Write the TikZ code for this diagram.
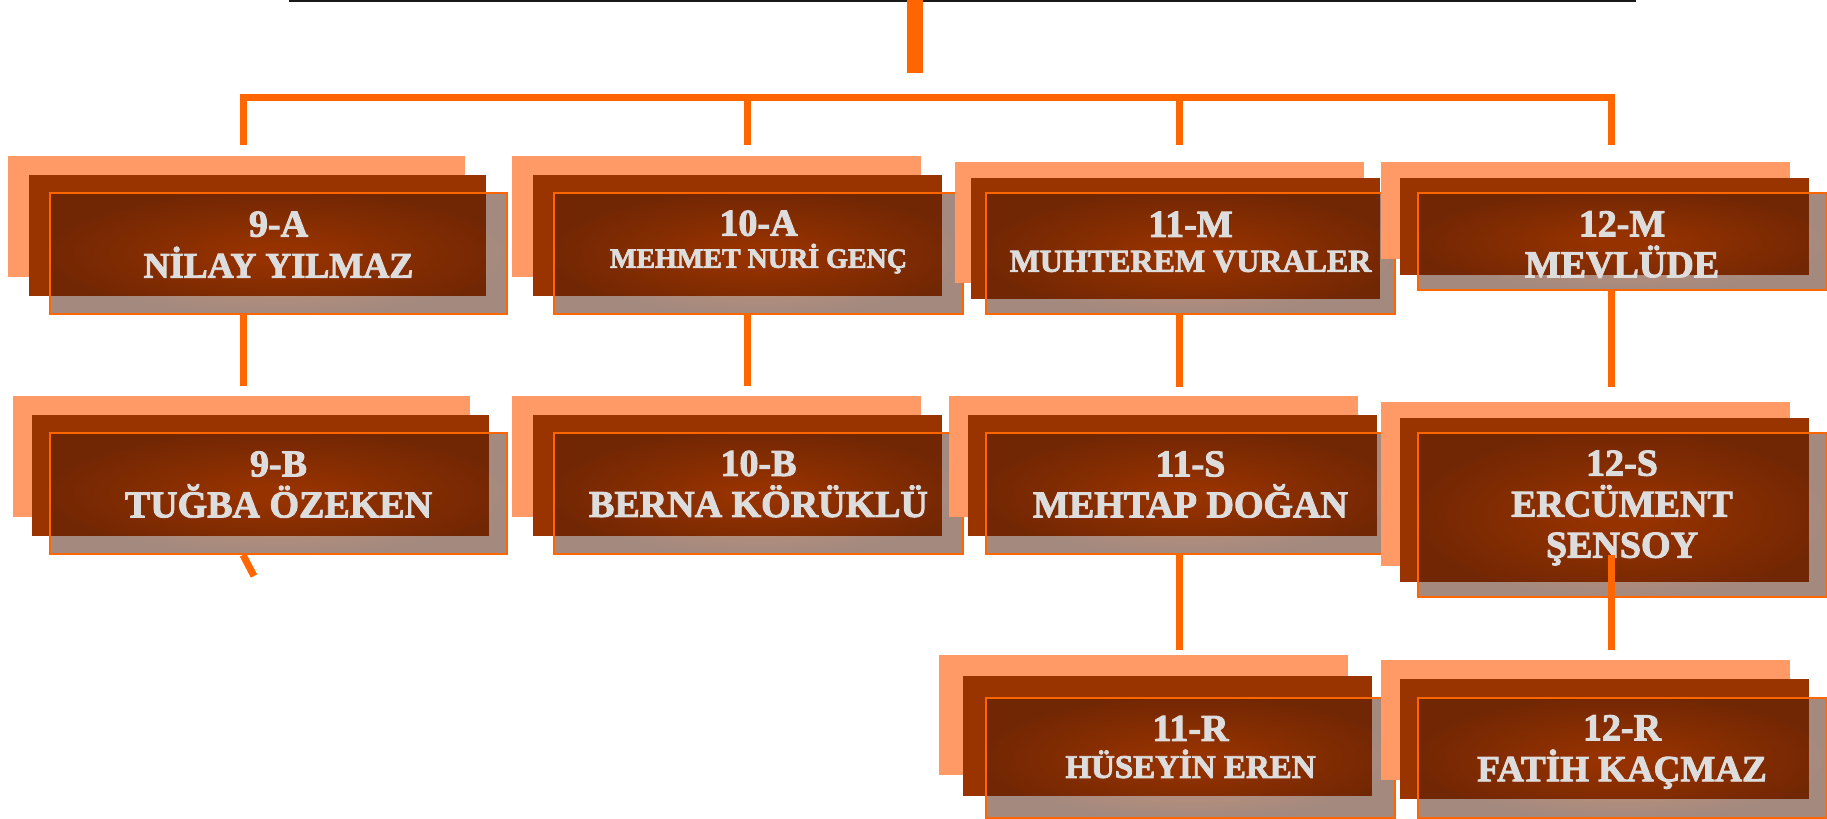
\documentclass[tikz,border=0pt]{standalone}
\usepackage{fontspec}
\setmainfont{Liberation Serif}[BoldFeatures={FakeBold=2.5}]
\usetikzlibrary{shadows}

\definecolor{salmon}{HTML}{FF9966}
\definecolor{brick}{HTML}{993300}
\definecolor{wire}{HTML}{FF6600}
\definecolor{shadelo}{RGB}{78,28,8}
\definecolor{shadehi}{RGB}{146,50,0}
\definecolor{labelgray}{HTML}{DDDDDD}
\pgfdeclareradialshading{glow}{\pgfpoint{0bp}{0bp}}{color(0bp)=(shadehi);
    color(4bp)=(shadehi); color(26bp)=(shadelo); color(50bp)=(shadelo)}

\begin{document}
\begin{tikzpicture}[x=0.5pt, y=-0.5pt,
    klass/.style={draw=wire, line width=1pt, inner sep=0pt,
                  minimum width=204.5pt, minimum height=60.5pt,
                  shade, shading=glow, fill opacity=0.52},
    stack/.style n args={4}{general shadow={fill=salmon, fill opacity=1,
                  shadow xshift=#3, shadow yshift=#4},
                  general shadow={fill=brick, fill opacity=1,
                  shadow xshift=#1, shadow yshift=#2}},
    tag/.style={inner sep=0pt, align=center, text=labelgray,
                font=\bfseries\fontsize{19pt}{20.5pt}\selectfont},
    link/.style={draw=wire, line width=3.5pt}]
    \useasboundingbox (0,0) rectangle (1827,819);
    \draw[line width=1.2pt, black!90] (289,1) -- (1636,1);

    \node[klass, minimum width=228.5pt, stack={-10.5pt}{9pt}{-21pt}{18.5pt}] (c9a) at (278.5,253.5) {};
    \node[klass, stack={-10.5pt}{9pt}{-21pt}{18.5pt}] (c10a) at (758.5,253.5) {};
    \node[klass, stack={-7.5pt}{7.5pt}{-15.5pt}{15.5pt}] (c11m) at (1190.5,253.5) {};
    \node[klass, minimum height=48.5pt, stack={-9pt}{7.5pt}{-18.5pt}{15.5pt}] (c12m) at (1622,241.5) {};
    \node[klass, minimum width=228.5pt, stack={-9pt}{9pt}{-18.5pt}{18.5pt}] (c9b) at (278.5,493.5) {};
    \node[klass, stack={-10.5pt}{9pt}{-21pt}{18.5pt}] (c10b) at (758.5,493.5) {};
    \node[klass, stack={-9pt}{9pt}{-18.5pt}{18.5pt}] (c11s) at (1190.5,493.5) {};
    \node[klass, minimum height=82pt, stack={-9pt}{7.5pt}{-18.5pt}{15.5pt}] (c12s) at (1622,515) {};
    \node[klass, minimum height=60pt, stack={-11.5pt}{11pt}{-23.5pt}{21.5pt}] (c11r) at (1190.5,758) {};
    \node[klass, minimum height=60pt, stack={-9pt}{9.5pt}{-18.5pt}{19pt}] (c12r) at (1622,758) {};

    \node[tag] (t9a) at (278.5,244.5) {9-A\\{\fontsize{18pt}{20pt}\selectfont NİLAY YILMAZ}};
    \node[tag] (t10a) at (758.5,242) {10-A\\[-4.5pt]{\fontsize{14pt}{16pt}\selectfont MEHMET NURİ GENÇ}};
    \node[tag] (t11m) at (1190.5,242) {11-M\\[-3pt]{\fontsize{16pt}{18pt}\selectfont MUHTEREM VURALER}};
    \node[tag] (t12m) at (1622,244.5) {12-M\\MEVLÜDE};
    \node[tag] (t9b) at (278.5,484.5) {9-B\\TUĞBA ÖZEKEN};
    \node[tag] (t10b) at (758.5,484) {10-B\\BERNA KÖRÜKLÜ};
    \node[tag] (t11s) at (1190.5,484.5) {11-S\\MEHTAP DOĞAN};
    \node[tag] (t12s) at (1622,508) {12-S\\ERCÜMENT\\ŞENSOY};
    \node[tag] (t11r) at (1190.5,747) {11-R\\[-2pt]{\fontsize{16.5pt}{18pt}\selectfont HÜSEYİN EREN}};
    \node[tag] (t12r) at (1622,752) {12-R\\{\fontsize{18.5pt}{20pt}\selectfont FATİH KAÇMAZ}};

    \coordinate (top) at (915,0);
    \coordinate (bus) at (915,97.5);
    \coordinate (d9a) at (243,145);
    \coordinate (d10a) at (747,145);
    \coordinate (d11m) at (1179,145);
    \coordinate (d12m) at (1611,145);
    \draw[link, line width=8pt] (top) -- ++(0,73);
    \draw[link] (d9a) |- (bus) -| (d12m);
    \draw[link] (d10a) -- (d10a |- bus);
    \draw[link] (d11m) -- (d11m |- bus);
    \draw[link] ([xshift=-17.75pt]c9a.south) -- ++(0,71);
    \draw[link] ([xshift=-5.75pt]c10a.south) -- ++(0,71);
    \draw[link] ([xshift=-5.75pt]c11m.south) -- ++(0,72);
    \draw[link] ([xshift=-5.5pt]c12m.south) -- ++(0,96);
    \draw[link] ([xshift=-17.75pt]c9b.south) -- ++(11,21);
    \draw[link] ([xshift=-5.75pt]c11s.south) -- ++(0,95);
    \draw[link] (d12m |- c11s.south) -- ++(0,95);
\end{tikzpicture}
\end{document}
